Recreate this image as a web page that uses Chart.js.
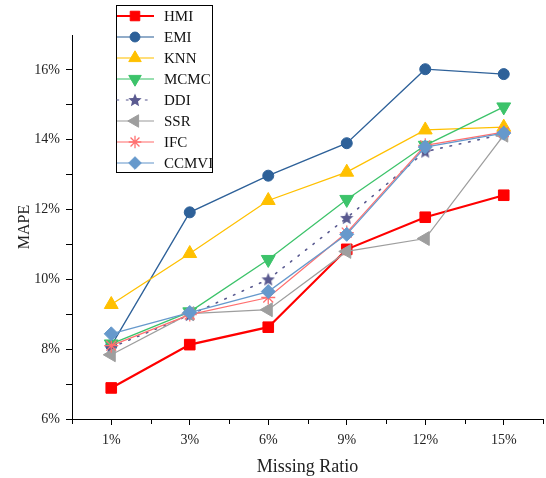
<!DOCTYPE html>
<html>
<head>
<meta charset="utf-8">
<script src="https://cdn.jsdelivr.net/npm/chart.js@4/dist/chart.umd.min.js"></script>
<style>
  body { margin: 0; background: #fff; }
  canvas { display: block; }
</style>
</head>
<body>
<canvas id="myChart" width="546" height="478"></canvas>
<script>
// data
var ratios = ["1%", "3%", "6%", "9%", "12%", "15%"];
var hmi = [6.89, 8.13, 8.63, 10.86, 11.78, 12.41];
var emi = [8.1, 11.92, 12.97, 13.9, 16.02, 15.88];
var knn = [9.28, 10.74, 12.26, 13.07, 14.28, 14.36];
var mcmc = [8.15, 9.07, 10.57, 12.29, 13.84, 14.94];
var ddi = [8.05, 8.98, 10.0, 11.76, 13.66, 14.16];
var ssr = [7.84, 9.02, 9.13, 10.8, 11.17, 14.13];
var ifc = [8.1, 8.99, 9.48, 11.34, 13.84, 14.22];
var ccmvi = [8.44, 9.05, 9.65, 11.29, 13.79, 14.19];
var yTicks = [6, 7, 8, 9, 10, 11, 12, 13, 14, 15, 16];

var FONT = "'Liberation Serif', 'DejaVu Serif', serif";

// 5 point star for DDI
function makeStar(size, color) {
  var c = document.createElement("canvas");
  c.width = size;
  c.height = size;
  var g = c.getContext("2d");
  var cx = size / 2, cy = size / 2 + 0.5, R = size / 2, r = R * 0.45;
  g.beginPath();
  for (var i = 0; i < 10; i++) {
    var a = -Math.PI / 2 + (i * Math.PI) / 5;
    var rr = i % 2 == 0 ? R : r;
    g.lineTo(cx + rr * Math.cos(a), cy + rr * Math.sin(a));
  }
  g.closePath();
  g.fillStyle = color;
  g.fill();
  return c;
}
var starImg = makeStar(14, "#5a5a90");

function series(label, data, color, style, radius, extra) {
  var ds = {
    label: label,
    data: data,
    borderColor: color,
    backgroundColor: color,
    borderWidth: 1.3,
    pointStyle: style,
    pointRadius: radius,
    pointHoverRadius: radius,
    pointBorderWidth: 1,
    tension: 0,
  };
  for (var k in extra) ds[k] = extra[k];
  return ds;
}

var datasets = [
  series("HMI", hmi, "#ff0000", "rect", 7.5, { borderWidth: 2.2, order: 7 }),
  series("EMI", emi, "#2e6199", "circle", 5.5, { order: 6 }),
  series("KNN", knn, "#ffc000", "triangle", 8, { order: 5 }),
  series("MCMC", mcmc, "#3cc36a", "triangle", 8, { pointRotation: 180, order: 4 }),
  series("DDI", ddi, "#5a5a90", starImg, 7, { borderDash: [1.5, 8], borderWidth: 1.6, borderCapStyle: "round", order: 3 }),
  series("SSR", ssr, "#9e9e9e", "triangle", 8, { pointRotation: -90, order: 2 }),
  series("IFC", ifc, "#ff7070", "star", 7, { pointBorderWidth: 1.3, order: 1 }),
  series("CCMVI", ccmvi, "#6699cc", "rectRot", 7, { order: 0 }),
];

// legend box drawn by hand (line + marker samples)
var legendBox = {
  id: "legendBox",
  afterDraw: function (chart) {
    var ctx = chart.ctx;
    var left = 116, top = 5, w = 96, h = 167;
    ctx.save();
    ctx.fillStyle = "#fff";
    ctx.fillRect(left, top, w, h);
    ctx.strokeStyle = "#000";
    ctx.lineWidth = 1;
    ctx.strokeRect(left + 0.5, top + 0.5, w, h);
    ctx.font = "15px " + FONT;
    ctx.textBaseline = "middle";
    chart.data.datasets.forEach(function (ds, i) {
      var y = 16 + i * 21;
      ctx.save();
      ctx.strokeStyle = ds.borderColor;
      ctx.lineWidth = ds.borderWidth;
      ctx.globalAlpha = ds.label == "HMI" ? 1 : 0.7;
      if (ds.borderDash) {
        ctx.setLineDash(ds.borderDash);
        ctx.lineCap = "round";
      }
      ctx.beginPath();
      ctx.moveTo(left + 1, y);
      ctx.lineTo(left + 38, y);
      ctx.stroke();
      ctx.restore();
      ctx.save();
      ctx.fillStyle = ds.backgroundColor;
      ctx.strokeStyle = ds.borderColor;
      ctx.lineWidth = ds.pointBorderWidth;
      Chart.helpers.drawPoint(ctx, {
        pointStyle: ds.pointStyle,
        rotation: ds.pointRotation || 0,
        radius: ds.pointRadius * 0.9,
        borderWidth: ds.pointBorderWidth,
      }, left + 19, y);
      ctx.restore();
      ctx.fillStyle = "#111";
      ctx.fillText(ds.label, left + 48, y + 1);
    });
    ctx.restore();
  },
};

// small ticks between categories on the x axis
var xMinorTicks = {
  id: "xMinorTicks",
  afterDraw: function (chart) {
    var xs = chart.scales.x;
    var ctx = chart.ctx;
    var bottom = chart.chartArea.bottom;
    ctx.save();
    ctx.strokeStyle = "#000";
    ctx.lineWidth = 1;
    for (var i = 0; i <= ratios.length; i++) {
      var px = Math.round(xs.getPixelForValue(i - 0.5)) + 0.5;
      ctx.beginPath();
      ctx.moveTo(px, bottom);
      ctx.lineTo(px, bottom + 5);
      ctx.stroke();
    }
    ctx.restore();
  },
};

var ctx = document.getElementById("myChart").getContext("2d");
var myChart = new Chart(ctx, {
  type: "line",
  data: { labels: ratios, datasets: datasets },
  plugins: [xMinorTicks, legendBox],
  options: {
    responsive: false,
    animation: false,
    layout: { autoPadding: false, padding: { top: 35, right: 3, left: 0, bottom: 0 } },
    plugins: { legend: { display: false }, tooltip: { enabled: false } },
    scales: {
      x: {
        type: "category",
        offset: true,
        border: { color: "#000", width: 1 },
        grid: { display: true, drawOnChartArea: false, offset: false, tickLength: 6, color: "#000" },
        ticks: { color: "#222", padding: 7, maxRotation: 0, font: { family: FONT, size: 14 } },
        title: { display: true, text: "Missing Ratio", color: "#222", padding: { top: 0, bottom: 0 }, font: { family: FONT, size: 18 } },
        afterFit: function (scale) { scale.height = 59; },
      },
      y: {
        min: 6,
        max: 17,
        border: { color: "#000", width: 1 },
        grid: { display: true, drawOnChartArea: false, tickLength: 6, color: "#000" },
        afterBuildTicks: function (scale) {
          scale.ticks = yTicks.map(function (v) { return { value: v }; });
        },
        ticks: {
          color: "#222",
          padding: 6,
          font: { family: FONT, size: 14 },
          callback: function (v) { return v % 2 == 0 ? v + "%" : ""; },
        },
        title: { display: true, text: "MAPE", color: "#222", padding: { top: 15, bottom: 0 }, font: { family: FONT, size: 16 } },
        afterFit: function (scale) { scale.width = 72; },
      },
    },
  },
});
</script>
</body>
</html>
